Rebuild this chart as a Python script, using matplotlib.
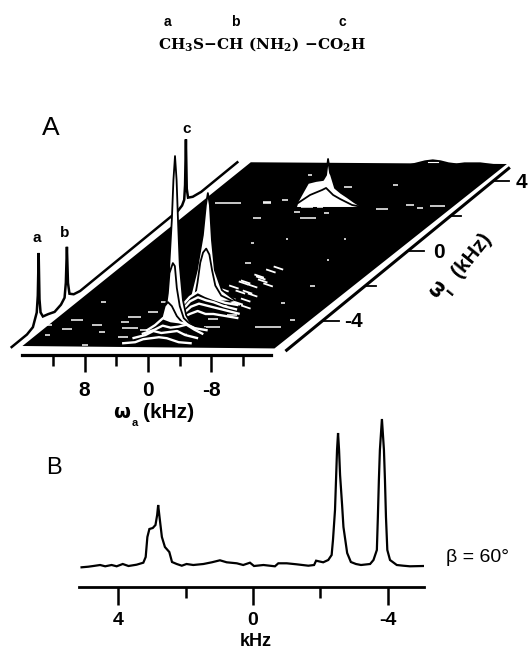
import numpy as np
import matplotlib
matplotlib.use("Agg")
import matplotlib.pyplot as plt

plt.rcParams['font.family'] = ['Liberation Sans', 'DejaVu Sans']
plt.rcParams['mathtext.fontset'] = 'custom'
plt.rcParams['mathtext.rm'] = 'DejaVu Serif:bold'
plt.rcParams['mathtext.it'] = 'DejaVu Serif:bold'
plt.rcParams['mathtext.bf'] = 'DejaVu Serif:bold'

# ---------- Panel B spectrum (kHz, intensity) ----------
b_khz = [5.08,4.88,4.73,4.53,4.38,4.19,4.04,3.86,3.69,3.45,3.25,3.18,3.13,3.07,2.97,2.89,2.84,2.81,2.77,2.70,2.61,2.48,2.40,
         2.26,2.11,1.97,1.77,1.47,1.22,.98,.78,.48,.29,.09,-.03,-.31,-.65,-.75,-1.0,-1.29,-1.64,-1.81,-1.87,-2.08,-2.23,-2.33,
         -2.37,-2.43,-2.46,-2.49,-2.52,-2.55,-2.58,-2.64,-2.68,-2.79,-2.90,-3.05,-3.20,-3.47,-3.57,-3.67,-3.70,-3.73,-3.76,-3.82,
         -3.88,-3.91,-3.94,-3.98,-4.06,-4.26,-4.45,-4.65,-5.05]
b_int = [-2.3,-1.7,-1,0,-1.3,0,-1.3,1,-1,.3,2.3,8,28,36,37,40,50,60,48,28,18,13,3,
         1,-.7,1,0,1,2.7,4.7,2.7,1.7,0,2.3,-1,0,-1.3,1.7,1.7,.7,-.7,0,4.3,2.7,5,10,
         25,55,85,115,132,115,90,60,38,12,3,1,0,1,5,15,48,85,115,146,
         115,85,48,15,5,0,-.7,-1.3,-1]
b_ticks = [4, 2, 0, -2, -4]
b_labels = ['4', '', '0', '', '-4']

# ---------- Panel A: 1D spectrum along the left edge (omega1, intensity) ----------
edge_w1 = [-5.52,-4.8,-4.52,-4.34,-4.29,-4.25,-4.21,-4.16,-4.05,-3.8,-3.5,-3.2,-3.03,-2.97,-2.92,-2.87,-2.8,-2.6,-2.3,
           2.3,2.5,2.6,2.64,2.68,2.72,2.78,3.0,3.4,5.1]
edge_h = [0,0,2.5,14,30,72,25,11,5,3,0,2,6,20,55,18,6,2,0,
          0,2,6,20,65,15,5,2,0,0]

# ---------- Panel A: tall slices (omega1 baseline, omega2, intensity) ----------
p3_w1 = 2.53
p3_tall_w2 = [2.69,2.44,1.81,1.17,.16,-.72,-1.1,-1.35,-1.6,-1.73,-2.23,-2.99,-3.75,-4.63,-5.64]
p3_tall_h = [0,6,15,24,26,27,32,48,34,32,19,14,10,5,0]
p3_in_w2 = [2.44,.92,-.6,-1.1,-1.99,-2.87,-4.38,-5.64]
p3_in_h = [4,12,17,19,12,8,2,0]

p2_w1 = -2.82
p2_tall_w2 = [2.4,1.74,.86,.1,-.28,-.53,-.78,-1.04,-1.41,-2.3,-3.94]
p2_tall_h = [0,2,30,65,95,107,95,60,30,10,0]
p2_in_w2 = [1.1,.7,.35,0,-.4,-.8,-1.15,-1.55,-2.3,-3.6]
p2_in_h = [0,18,38,48,52,46,30,15,5,0]

p1_w1 = -4.43
p1_tall_w2 = [2.5,1.2,.6,.2,0,-.3,-.5,-.7,-.9,-1.1,-1.3,-1.7,-2.1,-2.6,-3.5,-4.5]
p1_tall_h = [0,6,16,33,66,108,148,172,148,103,63,28,13,6,0,0]
p1_in_w2 = [1.2,.6,.2,0,-.43,-.68,-.93,-1.3,-1.8,-2.6,-3.8]
p1_in_h = [2,12,35,55,65,62,40,22,10,4,0]
p1_low_w2 = [1.2,.6,.2,-.3,-.93,-1.8,-2.8]
p1_low_h = [4,22,26,22,12,4,0]

# ---------- Panel A: low ridges in front of the peaks (omega1, omega2, intensity) ----------
ridges_p2 = [
    (-3.10, [1.9,1,0,-1,-2,-3.5,-5], [0,8,13,9,6,2,0]),
    (-3.35, [1.2,.3,-.7,-1.7,-2.7,-4,-5.5], [0,8,12,9,7,3,0]),
    (-3.60, [.5,-.5,-1.5,-2.5,-3.5,-5,-6.5], [0,7,10,8,6,3,0]),
    (-3.85, [0,-1,-2,-3,-4,-5.5,-7], [0,4,7,4,4,2,0]),
]
ridges_p1 = [
    (-4.55, [2.5,1.5,.5,-.5,-1.5,-2.5,-3.5,-5], [0,5,12,9,8,6,2,0]),
    (-4.75, [2.5,1,0,-1,-2,-3,-4,-5], [0,4,8,6,7,9,4,0]),
    (-5.00, [3,1.5,.5,-.5,-1.5,-2.5,-3.5,-5], [0,3,7,5,6,7,3,0]),
    (-5.30, [3.5,2,1,0,-1,-2,-3.5,-5], [0,1,4,5,6,5,1,0]),
]

# ---------- Panel A: small white contour fragments (omega2, omega1, width in kHz) ----------
spk_w2 = [12.4,12.9,15.8,12.8,9.6,6.6,4.6,14.3,7.9,4.5,8.1,.1,5.9,12.9,11.3,7,-12.3,-14.3,-11.5,-10.5,
          -8.5,-11.4,-13.1,-15,-.8,-6.5,5.9,7.1,5.2,1.3,-.3,1.8,-2.1,-.5,2.6,-1.1,-8.4,-9.5,
          6.1,5,3,4.8,-5.2,-4.1,-5.9,-2.6]
spk_w1 = [-2.93,-3.97,-4.25,-4.48,-4.25,-4.08,-3.5,-4.83,-4.66,-4.94,-5.4,-.69,1.9,2.76,2.76,2.76,-4.37,-3.97,-2,-3,
          2.41,2.64,2.47,2.59,3.68,3.79,4.37,2.82,2.93,2.53,2.53,2.24,2.18,1.9,.46,.69,.69,-.52,
          -3.79,-4.43,-4.54,-2.93,-4.37,-3.9,-3.68,-4.77]
spk_wd = [.6,1.5,1,1.3,1.3,1,1.3,.6,.8,1.3,.8,.8,1,1.3,2,1,3.2,.6,.6,.4,
          1.6,1,.8,1.8,1,.6,.5,1,.8,1.5,.8,.8,.6,2,.4,.3,.3,.3,
          1.7,2.1,.9,.7,2.1,1.3,1.3,1]
# slanted fragments near the diagonal
sl_w2 = [-1.7,-2.4,-3.2,-3.9,-4.4,-4.4,-3.9,-3.3,-2.8,-3.0,-4.4,-5.2,-2.3,-3.7,-5.3,-6.3,-4.7,-3,-.9,-4.2,-5.7]
sl_w1 = [-2.07,-1.78,-1.44,-1.15,-.98,-1.72,-2.01,-2.36,-2.7,-3.1,-3.0,-2.82,-1.84,-1.55,-2.53,-3.22,-2.99,-2.7,-2.24,-2.36,-1.95]

# rear edge bumps (omega2, intensity)
rear_w2 = [-5,-6,-7,-8,-9,-10,-11,-12,-14,-15,-16]
rear_h = [0,2,4,5,4,2,1,2,2,1,0]

# plane corners (omega2, omega1)
plane_w2 = [15.8,15.3,-17.3,-16.4]
plane_w1 = [-5.46,5.1,5.0,-5.6]

w2_ticks = [12,8,4,0,-4,-8,-12]
w2_labels = ['', '8', '', '0', '', '-8', '']
w1_ticks = [-4,-2,0,2,4]
w1_major = {-4:'-4', 0:'0', 4:'4'}

W, H = 528, 650
fig = plt.figure(figsize=(W/100, H/100), dpi=100, facecolor='white')
ax = fig.add_axes([0, 0, 1, 1])
ax.set_xlim(0, W); ax.set_ylim(H, 0); ax.axis('off')

def proj(w2, w1, h=0):
    w2 = np.asarray(w2, float); w1 = np.asarray(w1, float); h = np.asarray(h, float)
    return 263.6 + 21.25*w1 - 7.92*w2, 251 - 17.4*w1 - h

def fr(left, top, right, bottom):
    return [left/W, 1-bottom/H, (right-left)/W, (bottom-top)/H]

# --- plane
px, py = proj(plane_w2, plane_w1)
ax.fill(px, py, color='k', lw=0, zorder=1)
rx, ry = proj(rear_w2, [4.98]*len(rear_w2), rear_h)
ax.fill(rx, ry, color='k', lw=0, zorder=1)
rx2, ry2 = proj([-8.6,-7.4], [5.0,5.0], [2.5,2.5])
ax.plot(rx2, ry2, color='w', lw=.8, zorder=2)

# --- fragments
for a, b, c in zip(spk_w2, spk_w1, spk_wd):
    x, y = proj([a+c/2, a-c/2], [b, b])
    ax.plot(x, y, color='w', lw=1.1, solid_capstyle='butt', zorder=2)
for a, b in zip(sl_w2, sl_w1):
    x, y = proj([a+.5, a-.7], [b, b], [1.6, -1.6])
    ax.plot(x, y, color='w', lw=1.3, solid_capstyle='butt', zorder=2)

# --- left edge spectrum and right axis line
ex, ey = proj([17.0]*len(edge_w1), edge_w1, edge_h)
ax.plot(ex, ey, color='k', lw=1.8, solid_joinstyle='miter', zorder=3)
lx, ly = proj([-18.2, -18.2], [-5.7, 4.75])
ax.plot(lx, ly, color='k', lw=2.2, zorder=3)
for t in w1_ticks:
    L = 2.0 if t in w1_major else 1.4
    tx, ty = proj([-18.2, -18.2-L], [t, t])
    ax.plot(tx, ty, color='k', lw=1.3, zorder=3)
    if t in w1_major:
        ex_lab, ey_lab = proj(-18.2-(3.6 if t == 4 else 3.9), t)
        ax.text(float(ex_lab), float(ey_lab)+1, w1_major[t], fontsize=15, fontweight='bold', ha='center', va='center', color='k')

# --- peaks, back to front
def slice_white(w1, w2, h, z):
    x, y = proj(w2, [w1]*len(w2), h)
    ax.fill(x, y, color='w', lw=0, zorder=z)
    ax.plot(x, y, color='k', lw=1.3, zorder=z+.01)

def ridge(w1, w2, h, z):
    x, y = proj(w2, [w1]*len(w2), h)
    ax.fill(x, y, color='k', lw=0, zorder=z)
    ax.plot(x, y, color='w', lw=1.7, zorder=z+.01)

slice_white(p3_w1, p3_tall_w2, p3_tall_h, 4.0)
slice_white(p3_w1, p3_in_w2, p3_in_h, 4.1)
slice_white(p2_w1, p2_tall_w2, p2_tall_h, 4.2)
slice_white(p2_w1-.03, p2_in_w2, p2_in_h, 4.3)
for i, (w1, a, b) in enumerate(ridges_p2):
    ridge(w1, a, b, 4.4+i*.02)
slice_white(p1_w1, p1_tall_w2, p1_tall_h, 4.5)
slice_white(p1_w1, p1_in_w2, p1_in_h, 4.6)
slice_white(p1_w1, p1_low_w2, p1_low_h, 4.7)
for i, (w1, a, b) in enumerate(ridges_p1):
    ridge(w1, a, b, 4.8+i*.02)

# --- omega2 axis
axa = fig.add_axes(fr(22, 330, 271, 355))
axa.set_xlim(15.9, -15.55); axa.patch.set_alpha(0)
axa.set_yticks([])
for s in ['top', 'left', 'right']:
    axa.spines[s].set_visible(False)
axa.spines['bottom'].set_linewidth(2.3)
axa.set_xticks(w2_ticks); axa.set_xticklabels(w2_labels, fontsize=15, fontweight='bold')
axa.tick_params(axis='x', length=12, width=1.8, pad=7)
for t, lab in zip(axa.xaxis.get_major_ticks(), w2_labels):
    if lab == '':
        t.tick1line.set_markersize(8)

# --- Panel B
axb = fig.add_axes(fr(79, 385, 424, 587))
axb.set_xlim(5.156, -5.067); axb.set_ylim(-22, 180); axb.patch.set_alpha(0)
axb.plot(b_khz, b_int, color='k', lw=1.6, solid_joinstyle='miter')
axb.set_yticks([])
for s in ['top', 'left', 'right']:
    axb.spines[s].set_visible(False)
axb.spines['bottom'].set_linewidth(2.0)
axb.set_xticks(b_ticks); axb.set_xticklabels(b_labels, fontsize=14, fontweight='bold')
axb.tick_params(axis='x', length=13, width=1.8, pad=5)
for t, lab in zip(axb.xaxis.get_major_ticks(), b_labels):
    if lab == '':
        t.tick1line.set_markersize(8)

# --- text
ax.text(262, 44, r'$\mathrm{CH_3S{-}CH\ (NH_2)\ {-}CO_2H}$', fontsize=11, ha='center', va='center', color='k')
ax.text(167, 22, 'a', fontsize=10, fontweight='bold', ha='center', va='center')
ax.text(235, 22, 'b', fontsize=10, fontweight='bold', ha='center', va='center')
ax.text(342, 22, 'c', fontsize=10, fontweight='bold', ha='center', va='center')
ax.text(37, 238, 'a', fontsize=11, fontweight='bold', ha='center', va='center')
ax.text(65, 233, 'b', fontsize=11, fontweight='bold', ha='center', va='center')
ax.text(187, 129, 'c', fontsize=11, fontweight='bold', ha='center', va='center')
ax.text(51, 128, 'A', fontsize=19, ha='center', va='center')
ax.text(54, 468, 'B', fontsize=17, ha='center', va='center')
ax.text(122, 413, '\u03c9', fontsize=14, fontweight='bold', family=['DejaVu Sans'], ha='center', va='center')
ax.text(135, 423, 'a', fontsize=8, fontweight='bold', ha='center', va='center')
ax.text(143, 412, '(kHz)', fontsize=15, fontweight='bold', ha='left', va='center')
ax.text(437, 289, '\u03c9', fontsize=14, fontweight='bold', family=['DejaVu Sans'], rotation=51, ha='center', va='center')
ax.text(450, 292, '\u0131', fontsize=10, fontweight='bold', family=['DejaVu Sans'], rotation=51, ha='center', va='center')
ax.text(472, 255, '(kHz)', fontsize=15, fontweight='bold', rotation=51, ha='center', va='center')
ax.text(477, 557, '\u03b2 = 60\u00b0', fontsize=14, ha='center', va='center', color='k')
ax.text(256, 641, 'kHz', fontsize=13, fontweight='bold', ha='center', va='center')

fig.savefig('out.png', dpi=100, facecolor='white')
